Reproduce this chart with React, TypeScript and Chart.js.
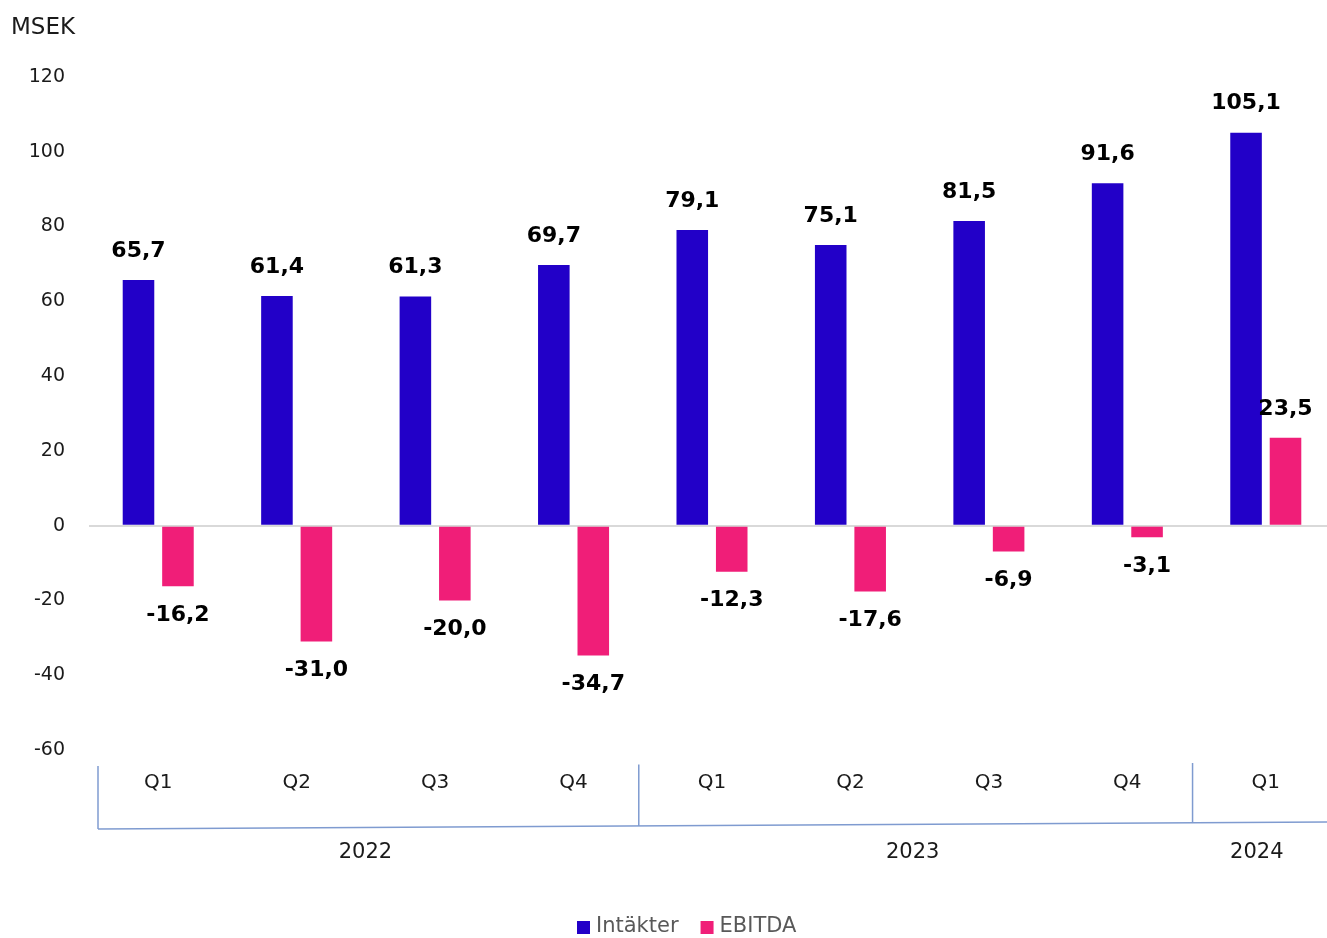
import React, { useEffect, useRef } from "react";
import { Chart, registerables } from "chart.js";

Chart.register(...registerables);

const quarters = ["Q1", "Q2", "Q3", "Q4", "Q1", "Q2", "Q3", "Q4", "Q1"];
const years = [
  { label: "2022", from: 0, to: 3 },
  { label: "2023", from: 4, to: 7 },
  { label: "2024", from: 8, to: 8 },
];
const intakter = [65.7, 61.4, 61.3, 69.7, 79.1, 75.1, 81.5, 91.6, 105.1];
const ebitda = [-16.2, -31.0, -20.0, -34.7, -12.3, -17.6, -6.9, -3.1, 23.5];
const seriesNames = ["Intäkter", "EBITDA"];
const colors = ["#2200C8", "#F01E78"];
const yMin = -60;
const yMax = 120;
const yStep = 20;
const unitLabel = "MSEK";

const VISIBLE_W = 1327;
const CANVAS_W = 1336;
const CANVAS_H = 938;
const FONT = "'DejaVu Sans', Verdana, sans-serif";

const fmt = (v: number) => v.toFixed(1).replace(".", ",");

const overlayPlugin = {
  id: "overlay",
  afterDatasetsDraw(chart: any) {
    const ctx = chart.ctx as CanvasRenderingContext2D;
    const xs = chart.scales.x;
    ctx.save();

    // unit label
    ctx.fillStyle = "#1a1a1a";
    ctx.font = `23px ${FONT}`;
    ctx.textAlign = "left";
    ctx.textBaseline = "middle";
    ctx.fillText(unitLabel, 11, 28);

    // data labels
    ctx.font = `bold 22px ${FONT}`;
    ctx.fillStyle = "#000";
    ctx.textAlign = "center";
    chart.data.datasets.forEach((ds: any, di: number) => {
      const meta = chart.getDatasetMeta(di);
      meta.data.forEach((bar: any, i: number) => {
        const v = ds.data[i] as number;
        const y = v >= 0 ? bar.y - 29 : bar.y + 29;
        ctx.fillText(fmt(v), bar.x, y);
      });
    });

    // category axis
    const half = (xs.getPixelForValue(1) - xs.getPixelForValue(0)) / 2;
    ctx.font = `20px ${FONT}`;
    ctx.fillStyle = "#1a1a1a";
    quarters.forEach((q, i) => {
      ctx.fillText(q, xs.getPixelForValue(i), 783);
    });

    const lineColor = "#7F9BD0";
    ctx.strokeStyle = lineColor;
    ctx.lineWidth = 1.5;
    const leftX = xs.getPixelForValue(0) - half + 9;
    const rightX = VISIBLE_W;
    const bottomY = (x: number) => 829 - ((x - leftX) / (rightX - leftX)) * 7;
    ctx.beginPath();
    ctx.moveTo(leftX, bottomY(leftX));
    ctx.lineTo(rightX, bottomY(rightX));
    ctx.stroke();

    const seps: number[] = [leftX];
    years.forEach((yr, k) => {
      if (k > 0) seps.push(xs.getPixelForValue(yr.from) - half - 4);
    });
    seps.forEach((sx, k) => {
      ctx.beginPath();
      ctx.moveTo(sx, 766 - k * 1.5);
      ctx.lineTo(sx, bottomY(sx));
      ctx.stroke();
    });

    ctx.font = `21px ${FONT}`;
    years.forEach((yr, k) => {
      const a = seps[k];
      const b = k + 1 < seps.length ? seps[k + 1] : rightX;
      ctx.fillText(yr.label, (a + b) / 2 - 3, 853);
    });

    // legend
    ctx.font = `21px ${FONT}`;
    ctx.textAlign = "left";
    let lx = 577;
    seriesNames.forEach((name, i) => {
      ctx.fillStyle = colors[i];
      ctx.fillRect(lx, 921, 13, 13);
      ctx.fillStyle = "#595959";
      ctx.fillText(name, lx + 19, 927);
      lx += 19 + ctx.measureText(name).width + 22;
    });

    ctx.restore();
  },
};

export default function App() {
  const ref = useRef<HTMLCanvasElement | null>(null);

  useEffect(() => {
    if (!ref.current) return;
    const chart = new Chart(ref.current, {
      type: "bar",
      data: {
        labels: quarters,
        datasets: [
          {
            label: seriesNames[0],
            data: intakter,
            backgroundColor: colors[0],
            barPercentage: 0.8,
            categoryPercentage: 0.57,
          },
          {
            label: seriesNames[1],
            data: ebitda,
            backgroundColor: colors[1],
            barPercentage: 0.8,
            categoryPercentage: 0.57,
          },
        ],
      },
      options: {
        responsive: false,
        animation: false,
        layout: { padding: { top: 77, bottom: CANVAS_H - 750, left: 0, right: 1 } },
        plugins: { legend: { display: false }, tooltip: { enabled: false } },
        scales: {
          x: { display: false },
          y: {
            min: yMin,
            max: yMax,
            ticks: {
              stepSize: yStep,
              padding: 24,
              color: "#1a1a1a",
              font: { family: FONT, size: 19 },
            },
            grid: {
              drawTicks: false,
              color: (c: any) => (c.tick && c.tick.value === 0 ? "#d9d9d9" : "rgba(0,0,0,0)"),
              lineWidth: 2,
            },
            border: { display: false },
            afterFit: (scale: any) => {
              scale.width = 89;
            },
          },
        },
      },
      plugins: [overlayPlugin],
    });
    return () => chart.destroy();
  }, []);

  return (
    <div
      style={{
        position: "absolute",
        left: 0,
        top: 0,
        width: VISIBLE_W,
        height: CANVAS_H,
        overflow: "hidden",
        background: "#fff",
      }}
    >
      <canvas ref={ref} width={CANVAS_W} height={CANVAS_H} style={{ display: "block" }} />
    </div>
  );
}
